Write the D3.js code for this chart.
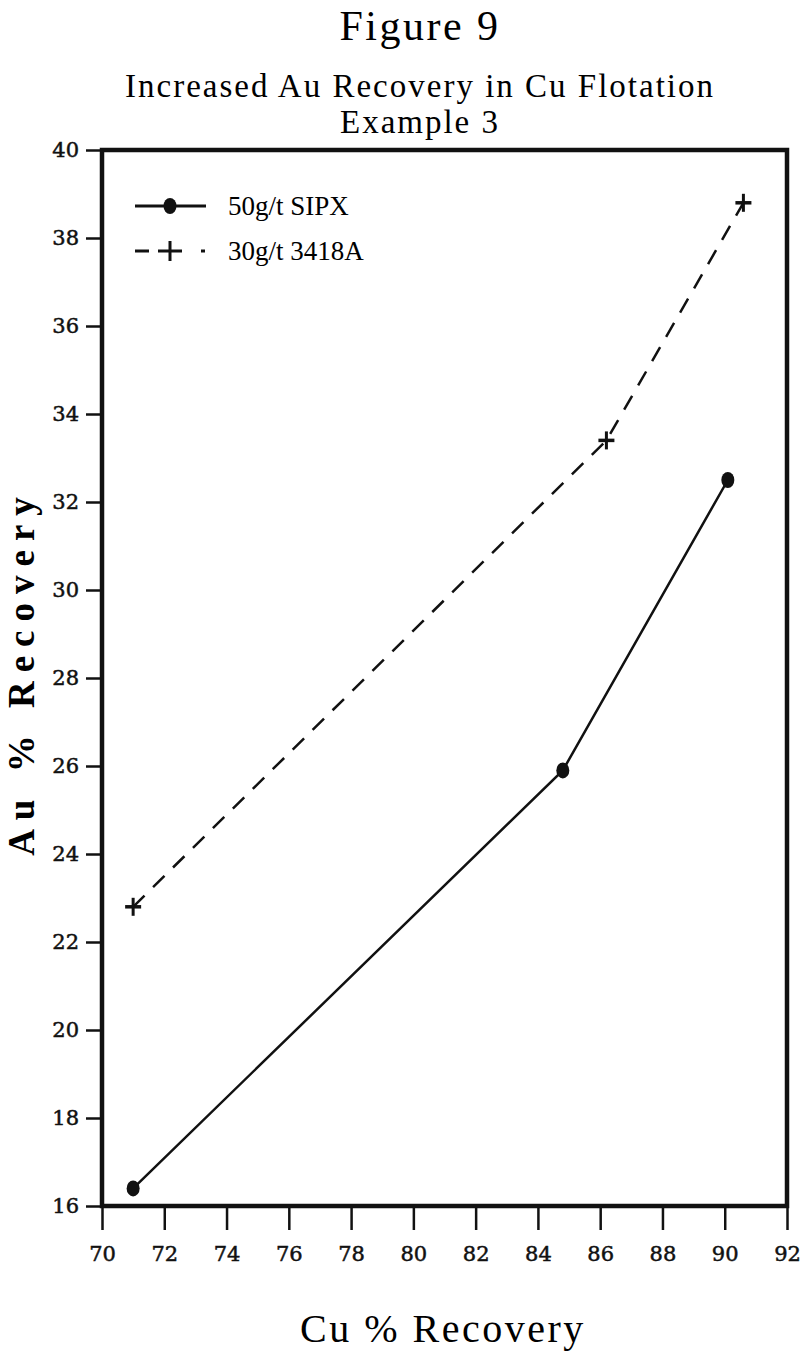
<!DOCTYPE html>
<html><head><meta charset="utf-8">
<script src="https://cdn.jsdelivr.net/npm/d3@7"></script>
<style>body{margin:0;background:#fff}svg{display:block}</style>
</head><body>
<svg id="c" width="800" height="1355"></svg>
<script>
const xTicks = [70,72,74,76,78,80,82,84,86,88,90,92];
const yTicks = [16,18,20,22,24,26,28,30,32,34,36,38,40];
const sipxX = [71.0, 84.8, 90.1];
const sipxY = [16.4, 25.9, 32.5];
const a3418X = [71.0, 86.2, 90.6];
const a3418Y = [22.8, 33.4, 38.8];
const seriesNames = ["50g/t SIPX", "30g/t 3418A"];

const svg = d3.select("#c");
const font = "'Liberation Serif', 'DejaVu Serif', serif";
const tickFont = "'DejaVu Serif', 'Liberation Serif', serif";
const x = d3.scaleLinear().domain([70,92]).range([102,787]);
const y = d3.scaleLinear().domain([16,40]).range([1206,150]);

// titles
svg.append("text").attr("x",420).attr("y",40).attr("text-anchor","middle")
  .attr("font-family",font).attr("font-size",42).attr("letter-spacing",2.5).text("Figure 9");
svg.append("text").attr("x",420).attr("y",97).attr("text-anchor","middle")
  .attr("font-family",font).attr("font-size",33).attr("letter-spacing",2).text("Increased Au Recovery in Cu Flotation");
svg.append("text").attr("x",420).attr("y",133).attr("text-anchor","middle")
  .attr("font-family",font).attr("font-size",33).attr("letter-spacing",2).text("Example 3");

// axes
const xAxis = d3.axisBottom(x).tickValues(xTicks).tickSize(24).tickPadding(10).tickFormat(d3.format("d"));
const gx = svg.append("g").attr("transform",`translate(0,${y(16)})`).call(xAxis);
const yAxis = d3.axisLeft(y).tickValues(yTicks).tickSize(16).tickPadding(7).tickFormat(d3.format("d"));
const gy = svg.append("g").attr("transform",`translate(${x(70)},0)`).call(yAxis);
[gx,gy].forEach(g=>{
  g.select(".domain").remove();
  g.selectAll(".tick line").attr("stroke","#111").attr("stroke-width",2.5);
  g.selectAll(".tick text").attr("font-family",tickFont).attr("font-size",21)
    .attr("fill","#111").attr("stroke","#111").attr("stroke-width",0.5);
});
gx.selectAll(".tick text").attr("dy","1.0em");

// frame
svg.append("rect").attr("x",x(70)).attr("y",y(40)).attr("width",x(92)-x(70)).attr("height",y(16)-y(40))
  .attr("fill","none").attr("stroke","#111").attr("stroke-width",4.5);

// axis labels
svg.append("text").attr("x",443).attr("y",1342).attr("text-anchor","middle")
  .attr("font-family",font).attr("font-size",40).attr("letter-spacing",2.5).text("Cu % Recovery");
svg.append("text").attr("transform","translate(34,672) rotate(-90)").attr("text-anchor","middle")
  .attr("font-family",font).attr("font-size",37).attr("font-weight","bold").attr("letter-spacing",9).text("Au % Recovery");

// lines
const line = d3.line().x(d=>x(d[0])).y(d=>y(d[1]));
const sipx = sipxX.map((v,i)=>[v,sipxY[i]]);
const a3418 = a3418X.map((v,i)=>[v,a3418Y[i]]);
svg.append("path").datum(sipx).attr("d",line).attr("fill","none").attr("stroke","#111").attr("stroke-width",2.5);
svg.append("path").datum(a3418).attr("d",line).attr("fill","none").attr("stroke","#111").attr("stroke-width",2.5).attr("stroke-dasharray","16,12");

svg.selectAll(".dot").data(sipx).enter().append("ellipse")
  .attr("cx",d=>x(d[0])).attr("cy",d=>y(d[1])).attr("rx",6.5).attr("ry",8).attr("fill","#111");
const plus = svg.selectAll(".plus").data(a3418).enter().append("g")
  .attr("transform",d=>`translate(${x(d[0])},${y(d[1])})`);
plus.append("line").attr("x1",-8).attr("x2",8).attr("stroke","#111").attr("stroke-width",3.5);
plus.append("line").attr("y1",-9).attr("y2",9).attr("stroke","#111").attr("stroke-width",3);

// legend
const lg = svg.append("g");
lg.append("line").attr("x1",135).attr("x2",206).attr("y1",206).attr("y2",206).attr("stroke","#111").attr("stroke-width",3);
lg.append("ellipse").attr("cx",170).attr("cy",206).attr("rx",6.5).attr("ry",8).attr("fill","#111");
lg.append("text").attr("x",228).attr("y",215).attr("font-family",font).attr("font-size",27).text(seriesNames[0]);
lg.append("line").attr("x1",135).attr("x2",206).attr("y1",251).attr("y2",251).attr("stroke","#111").attr("stroke-width",3).attr("stroke-dasharray","14,9,24,19,4");
lg.append("line").attr("x1",170).attr("x2",170).attr("y1",241).attr("y2",261).attr("stroke","#111").attr("stroke-width",3);
lg.append("text").attr("x",228).attr("y",260).attr("font-family",font).attr("font-size",27).text(seriesNames[1]);
</script>
</body></html>
